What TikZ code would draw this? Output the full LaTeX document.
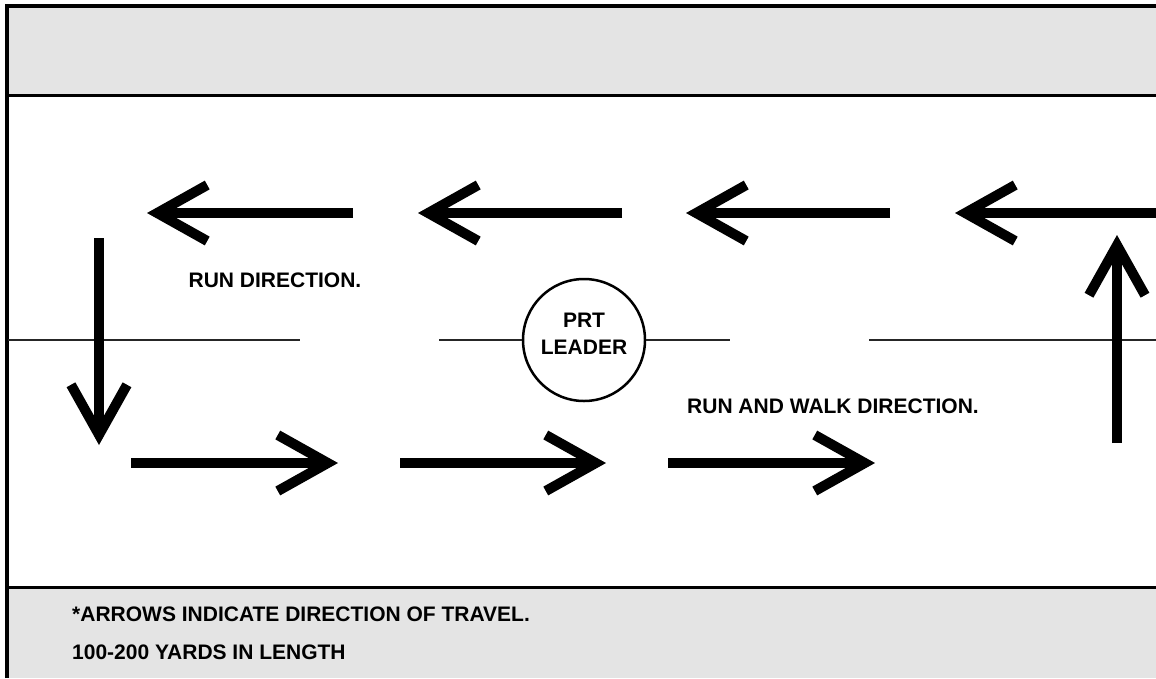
\documentclass[tikz,border=0pt]{standalone}
\usepackage{fontspec}
\setmainfont{Liberation Sans}
\usetikzlibrary{arrows.meta}

\definecolor{bandgray}{HTML}{E4E4E4}
\tikzset{
  bigarrow/.style={line width=10pt, -{Straight Barb[length=50pt, width=56pt]}},
  midline/.style={line width=2pt, black!85},
  lbl/.style={inner sep=0pt}
}

\begin{document}
\begin{tikzpicture}[x=1pt, y=-1pt, font=\bfseries\fontsize{21}{27}\selectfont]
  \useasboundingbox (0,0) rectangle (1156,678);

  % grey bands top and bottom
  \fill[bandgray] (6,5) rectangle (1156,95);
  \fill[bandgray] (6,587) rectangle (1156,678);
  \draw[line width=3pt] (6,95) -- (1156,95);
  \draw[line width=3pt] (6,587) -- (1156,587);

  % outer frame
  \draw[line width=4pt] (6.5,678) -- (6.5,5.5) -- (1156,5.5);

  % centre line with leader
  \node[circle, draw, line width=2.5pt, minimum size=122pt, align=center,
        text depth=12pt] (leader) at (584,340) {PRT\\LEADER};
  \coordinate (m1) at (8,340);
  \coordinate (m2) at (300,340);
  \coordinate (m3) at (439,340);
  \coordinate (m4) at (730,340);
  \coordinate (m5) at (869,340);
  \coordinate (m6) at (1156,340);
  \draw[midline] (m1) -- (m2) (m3) -- (leader) (leader) -- (m4) (m5) -- (m6);

  % top row, run direction
  \foreach \i/\s/\e in {1/353/147, 2/622/418, 3/890/686, 4/1156/955} {
    \coordinate (ts\i) at (\s,213);
    \coordinate (te\i) at (\e,213);
    \draw[bigarrow] (ts\i) -- (te\i);
  }

  % bottom row, run and walk direction
  \foreach \i/\s/\e in {1/131/338, 2/400/606, 3/668/875} {
    \coordinate (bs\i) at (\s,463);
    \coordinate (be\i) at (\e,463);
    \draw[bigarrow] (bs\i) -- (be\i);
  }

  % turns at the ends
  \coordinate (ds) at (99,238);
  \coordinate (de) at (99,445);
  \draw[bigarrow] (ds) -- (de);
  \coordinate (us) at (1117,443);
  \coordinate (ue) at (1117,235);
  \draw[bigarrow] (us) -- (ue);

  % labels
  \node[lbl] (rundir) at (275,280) {RUN DIRECTION.};
  \node[lbl] (walkdir) at (833,406) {RUN AND WALK DIRECTION.};
  \node[lbl, anchor=west] (note1) at (72,614.5) {*ARROWS INDICATE DIRECTION OF TRAVEL.};
  \node[lbl, anchor=west] (note2) at (72,652.5) {100-200 YARDS IN LENGTH};
\end{tikzpicture}
\end{document}
